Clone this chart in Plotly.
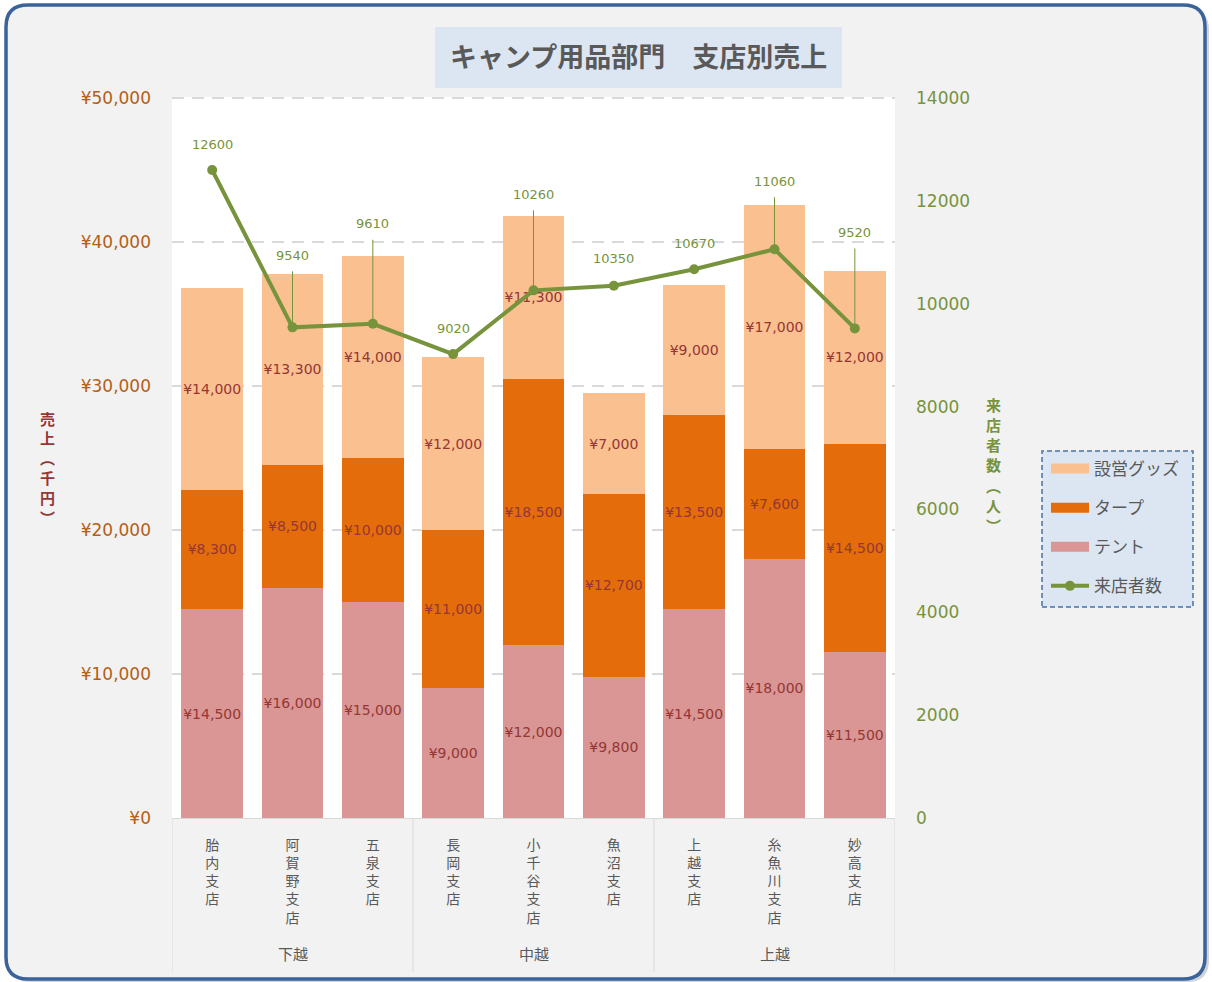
import plotly.graph_objects as go

# ---------------- data ----------------
regions = ["下越", "中越", "上越"]
branches = ["胎内支店", "阿賀野支店", "五泉支店", "長岡支店", "小千谷支店", "魚沼支店", "上越支店", "糸魚川支店", "妙高支店"]
branch_region = ["下越", "下越", "下越", "中越", "中越", "中越", "上越", "上越", "上越"]
tent = [14500, 16000, 15000, 9000, 12000, 9800, 14500, 18000, 11500]
tarp = [8300, 8500, 10000, 11000, 18500, 12700, 13500, 7600, 14500]
goods = [14000, 13300, 14000, 12000, 11300, 7000, 9000, 17000, 12000]
visitors = [12600, 9540, 9610, 9020, 10260, 10350, 10670, 11060, 9520]
left_ticks = [0, 10000, 20000, 30000, 40000, 50000]
right_ticks = [0, 2000, 4000, 6000, 8000, 10000, 12000, 14000]
left_title = "売上︵千円︶"
right_title = "来店者数︵人︶"

# ---------------- styling constants ----------------
W, H = 1212, 982
PL, PR, PT, PB = 172, 895, 95, 818      # plotting frame (slightly taller than the white area)
WHITE_TOP = 98                           # top of the white plot area / 50,000 gridline
PW, PH = PR - PL, PB - PT
HEAD = (PB - PT) / (PB - WHITE_TOP)      # headroom factor so the top gridline is drawn
C_GOODS, C_TARP, C_TENT = "#fac090", "#e46c0a", "#d99694"
C_LINE = "#77933c"
C_LABEL = "#953735"
C_LTICK = "#b45f14"
C_GRAY = "#595959"
JP = "Noto Sans CJK JP"
NUM = "DejaVu Sans, Noto Sans CJK JP"
# label placement per point: (pixel offset of label above point, draw leader?)
label_offsets = [(-26, False), (-72, True), (-100, True), (-26, False), (-96, True),
                 (-27, False), (-26, False), (-68, True), (-96, True)]


def px(x):
    return (x - PL) / PW


def py(y):
    return (PB - y) / PH


def rounded_path(x0, y0, x1, y1, r):
    rx, ry = r / PW, r / PH
    a, b, c, d = px(x0), py(y1), px(x1), py(y0)  # left, bottom, right, top (paper)
    return (f"M{a+rx},{d} L{c-rx},{d} Q{c},{d} {c},{d-ry} L{c},{b+ry} Q{c},{b} {c-rx},{b} "
            f"L{a+rx},{b} Q{a},{b} {a},{b+ry} L{a},{d-ry} Q{a},{d} {a+rx},{d} Z")


xs = list(range(len(branches)))
fig = go.Figure()

for name, vals, col in [("テント", tent, C_TENT), ("タープ", tarp, C_TARP), ("設営グッズ", goods, C_GOODS)]:
    fig.add_trace(go.Bar(
        x=xs, y=vals, name=name, marker=dict(color=col, line=dict(width=0)),
        texttemplate="¥%{y:,}", textposition="inside", insidetextanchor="middle",
        textangle=0, textfont=dict(family=NUM, size=14, color=C_LABEL),
        showlegend=False, legendgroup=name, hoverinfo="x+y",
    ))

fig.add_trace(go.Scatter(
    x=xs, y=visitors, name="来店者数", yaxis="y2", mode="lines+markers",
    line=dict(color=C_LINE, width=4), marker=dict(color=C_LINE, size=10),
    legendgroup="来店者数", legendrank=4,
))

# legend swatches (wide rectangles like the original)
for rank, (name, col) in enumerate([("設営グッズ", C_GOODS), ("タープ", C_TARP), ("テント", C_TENT)], start=1):
    fig.add_trace(go.Scatter(
        x=[None], y=[None], name=name, mode="lines", line=dict(color=col, width=14),
        legendgroup=name, legendrank=rank, showlegend=True, hoverinfo="skip",
    ))

shapes = []
# shadow + outer frame
shapes.append(dict(type="path", xref="paper", yref="paper", layer="below",
                   path=rounded_path(9, 8, 1209, 982, 22), fillcolor="rgba(120,130,150,0.35)",
                   line=dict(width=0)))
shapes.append(dict(type="path", xref="paper", yref="paper", layer="below",
                   path=rounded_path(6, 5, 1205, 979, 22), fillcolor="#f2f2f2",
                   line=dict(color="#3a6399", width=3.5)))
# plot area background
shapes.append(dict(type="rect", xref="paper", yref="paper", layer="below",
                   x0=0, x1=1, y0=0, y1=py(WHITE_TOP - 1), fillcolor="white", line=dict(width=0)))
# title box
shapes.append(dict(type="rect", xref="paper", yref="paper", layer="below",
                   x0=px(435), x1=px(842), y0=py(88), y1=py(27), fillcolor="#dce6f2",
                   line=dict(width=0)))
# legend box
shapes.append(dict(type="rect", xref="paper", yref="paper", layer="below",
                   x0=px(1042), x1=px(1193), y0=py(607), y1=py(451), fillcolor="#dce6f2",
                   line=dict(color="#4a72a8", width=1.5, dash="5px,3px")))
# category group separators
for xv in [-0.5, 2.5, 5.5, 8.5]:
    shapes.append(dict(type="line", xref="x", yref="paper", x0=xv, x1=xv,
                       y0=0, y1=py(972), line=dict(color="#d9d9d9", width=1)))

annotations = []
annotations.append(dict(text="<b>キャンプ用品部門　支店別売上</b>", xref="paper", yref="paper",
                        x=px(638.5), y=py(56), xanchor="center", yanchor="middle", showarrow=False,
                        font=dict(family=JP, size=27, color=C_GRAY)))
# region labels
for i, reg in enumerate(regions):
    members = [k for k, r in enumerate(branch_region) if r == reg]
    annotations.append(dict(text=reg, xref="x", yref="paper", x=sum(members) / len(members),
                            y=py(953), xanchor="center", yanchor="middle", showarrow=False,
                            font=dict(family=JP, size=15, color=C_GRAY)))
# axis titles (vertical stacked, one character per cell)
for title, xc, y0, step, col in [(left_title, 47, 418, 19.8, C_LABEL),
                                 (right_title, 993, 404, 20.3, C_LINE)]:
    for k, ch in enumerate(title):
        annotations.append(dict(text=ch, xref="paper", yref="paper", x=px(xc), y=py(y0 + k * step),
                                xanchor="center", yanchor="middle", showarrow=False,
                                font=dict(family=JP, size=15, color=col, weight="bold")))
# line data labels
for i, v in enumerate(visitors):
    off, leader = label_offsets[i]
    if leader:
        annotations.append(dict(text=str(v), x=i, y=v, xref="x", yref="y2", showarrow=True,
                                ax=0, ay=off, arrowhead=0, arrowwidth=1, arrowcolor=C_LINE,
                                startstandoff=7, font=dict(family=NUM, size=13, color=C_LINE)))
    else:
        annotations.append(dict(text=str(v), x=i, y=v, xref="x", yref="y2", showarrow=False,
                                yshift=-off, font=dict(family=NUM, size=13, color=C_LINE)))

fig.update_layout(
    width=W, height=H,
    margin=dict(l=PL, r=W - PR, t=PT, b=H - PB, pad=0),
    paper_bgcolor="white", plot_bgcolor="rgba(0,0,0,0)",
    barmode="stack", bargap=0.23,
    uniformtext=dict(minsize=14, mode="show"),
    shapes=shapes, annotations=annotations,
    xaxis=dict(range=[-0.5, 8.5], tickmode="array", tickvals=xs,
               ticktext=["<br>".join(b) for b in branches],
               tickfont=dict(family=JP, size=14, color=C_GRAY), ticks="", ticklabelstandoff=14,
               showgrid=False, zeroline=False, showline=True, linecolor="#d9d9d9", linewidth=1),
    yaxis=dict(range=[0, left_ticks[-1] * HEAD], tickmode="array", tickvals=left_ticks,
               ticktext=[f"¥{v:,}" for v in left_ticks],
               tickfont=dict(family=NUM, size=17, color=C_LTICK), ticks="", ticklabelstandoff=20,
               showgrid=True, gridcolor="#d9d9d9", gridwidth=2, griddash="12px,8px",
               zeroline=False, showline=False),
    yaxis2=dict(range=[0, right_ticks[-1] * HEAD], tickmode="array", tickvals=right_ticks,
                ticktext=[str(v) for v in right_ticks], overlaying="y", side="right",
                tickfont=dict(family=NUM, size=17, color=C_LINE), ticks="", ticklabelstandoff=20,
                showgrid=False, zeroline=False, showline=False),
    legend=dict(x=px(1046), xanchor="left", y=py(451), yanchor="top",
                bgcolor="rgba(0,0,0,0)", borderwidth=0, traceorder="grouped",
                tracegroupgap=14, itemwidth=38,
                font=dict(family=JP, size=17, color=C_GRAY)),
    showlegend=True,
)

fig.write_html("out.html", config={"displayModeBar": False},
               post_script="document.body.style.margin='0';document.body.style.overflow='hidden';")
